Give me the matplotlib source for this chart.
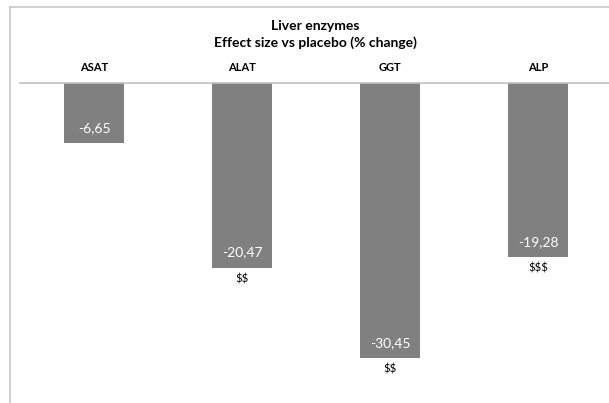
import matplotlib.pyplot as plt
from matplotlib.lines import Line2D

plt.rcParams['font.family'] = ['Lato', 'DejaVu Sans']
plt.rcParams['text.parse_math'] = False

enzymes = ['ASAT', 'ALAT', 'GGT', 'ALP']
effect = [-6.65, -20.47, -30.45, -19.28]
signif = ['', '$$', '$$', '$$$']

W, H = 609, 403
fig = plt.figure(figsize=(W / 100, H / 100), dpi=100)

# axes placed in pixel terms: zero line at y=83, runs from x=20 to the right edge
left, right, top = 20, 612, 83
ax = fig.add_axes([left / W, 0, (right - left) / W, 1 - top / H])

x = range(len(enzymes))
bars = ax.bar(x, effect, width=0.4, color='#808080', zorder=2)
ax.set_xlim(-0.5, 3.5)
ax.set_ylim(-(H - top) / 9.03, 0)

for b, v, s in zip(bars, effect, signif):
    cx = b.get_x() + b.get_width() / 2
    ax.annotate(f'{v:.2f}'.replace('.', ','), (cx, v), xytext=(0, 11),
                textcoords='offset points', ha='center', va='center',
                color='white', fontsize=10)
    if s:
        ax.annotate(s, (cx, v), xytext=(0, -8), textcoords='offset points',
                    ha='center', va='center', color='black', fontsize=8)

ax.xaxis.tick_top()
ax.set_xticks(list(x))
ax.set_xticklabels(enzymes, fontsize=8, fontweight='bold')
ax.tick_params(axis='x', length=0, pad=7)
ax.set_yticks([])
for side in ['left', 'right', 'bottom']:
    ax.spines[side].set_visible(False)
ax.spines['top'].set_color('#bfbfbf')
ax.spines['top'].set_linewidth(1.2)
ax.set_facecolor('none')

fig.text(315 / W, 1 - 26 / H, 'Liver enzymes', ha='center', va='center',
         fontsize=10, fontweight='bold')
fig.text(315 / W, 1 - 43 / H, 'Effect size vs placebo (% change)', ha='center',
         va='center', fontsize=10, fontweight='bold')

# chart area border (only top and left fall inside the frame)
fig.add_artist(Line2D([10 / W, 10 / W], [0, 1 - 7 / H], color='#c8c8c8', lw=1.2))
fig.add_artist(Line2D([10 / W, 1], [1 - 7 / H, 1 - 7 / H], color='#c8c8c8', lw=1.2))

fig.savefig('out.png', dpi=100)
